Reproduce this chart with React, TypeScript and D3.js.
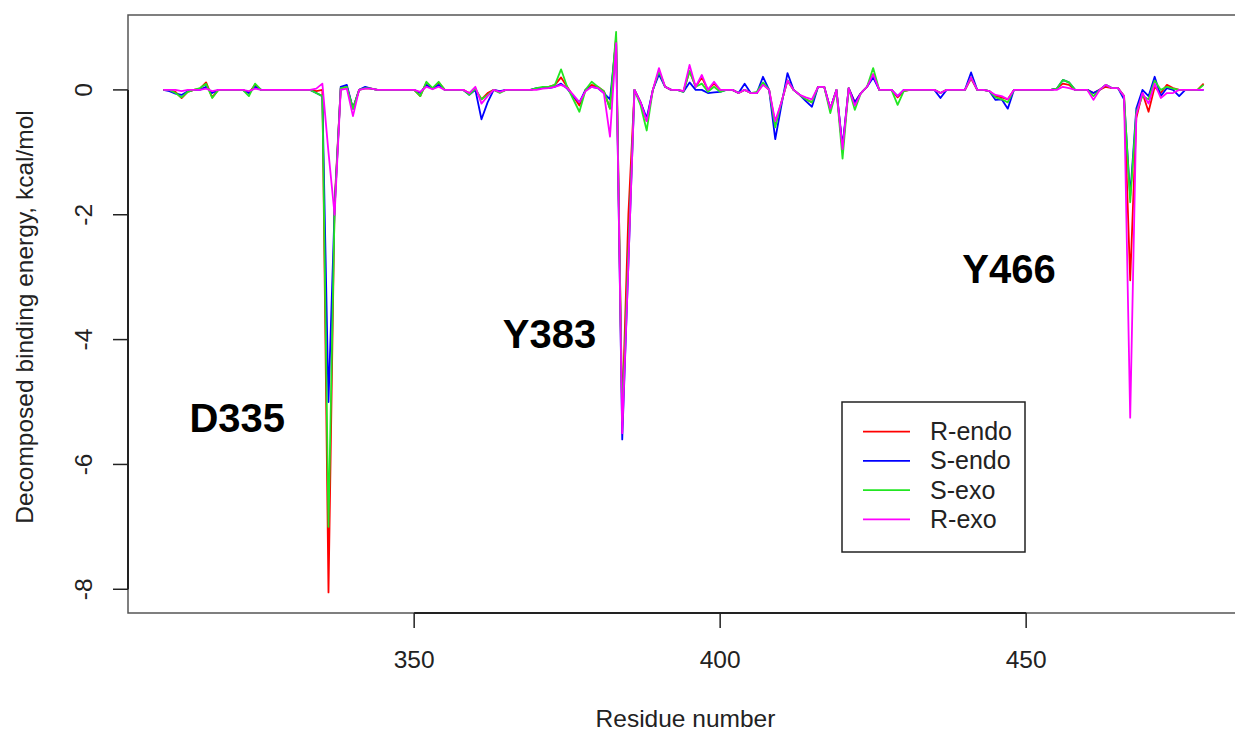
import React from "react";
import * as d3 from "d3";

const firstResidue = 309;

const rEndo = [
  0, 0, -0.03, -0.13, -0.03, 0, 0.02, 0.12, -0.12, 0,
  0, 0, 0, 0, -0.05, 0.08, 0, 0, 0, 0,
  0, 0, 0, 0, 0, -0.02, 0, -8.05, -1.8, 0.03,
  0.05, -0.3, 0, 0.03, 0.02, 0, 0, 0, 0, 0,
  0, 0, -0.1, 0.12, 0.02, 0.12, 0, 0, 0, 0,
  -0.05, 0, -0.15, -0.05, 0, -0.03, 0, 0, 0, 0,
  0, 0.02, 0.03, 0.05, 0.08, 0.2, 0.05, -0.1, -0.25, 0,
  0.08, 0.05, -0.02, -0.3, 0.85, -5.2, -2.0, 0, -0.2, -0.5,
  0, 0.3, 0.05, 0, 0, -0.02, 0.3, 0.05, 0.2, 0,
  0.1, 0, 0, 0, -0.05, 0, -0.05, -0.05, 0.1, 0,
  -0.55, -0.2, 0.15, 0, -0.08, -0.15, -0.2, 0.05, 0.05, -0.3,
  0, -0.95, 0.03, -0.2, -0.05, 0.05, 0.25, 0, 0, 0,
  -0.12, -0.02, 0, 0, 0, 0, 0, -0.05, 0, 0,
  0, 0, 0.18, 0, 0, -0.02, -0.1, -0.12, -0.15, 0,
  0, 0, 0, 0, 0, 0, 0.02, 0.1, 0.08, 0,
  0, 0, -0.05, 0, 0.05, 0.03, 0.03, -0.1, -3.05, -0.45,
  -0.05, -0.35, 0.05, -0.05, 0.08, 0.03, 0, 0, 0, 0,
  0.1,
];

const sEndo = [
  0, -0.02, -0.06, -0.08, -0.02, 0, 0, 0.05, -0.05, 0,
  0, 0, 0, 0, -0.05, 0.05, 0, 0, 0, 0,
  0, 0, 0, 0, 0, -0.05, -0.1, -5.0, -1.9, 0.05,
  0.08, -0.3, 0, 0.05, 0.02, 0, 0, 0, 0, 0,
  0, 0, -0.05, 0.08, 0.02, 0.08, 0, 0, 0, 0,
  -0.08, 0, -0.47, -0.2, 0, -0.02, 0, 0, 0, 0,
  0, 0.03, 0.03, 0.03, 0.05, 0.1, 0.02, -0.1, -0.2, 0,
  0.05, 0.03, -0.05, -0.15, 0.8, -5.6, -2.8, 0, -0.2, -0.45,
  0, 0.25, 0.05, 0, 0, -0.03, 0.12, 0, 0, -0.05,
  -0.04, -0.03, 0, 0, -0.05, 0.1, -0.05, -0.05, 0.21, 0,
  -0.79, -0.25, 0.27, 0, -0.08, -0.18, -0.27, 0.05, 0.05, -0.3,
  0, -0.9, 0.03, -0.2, -0.05, 0.05, 0.2, 0, 0, 0,
  -0.1, 0, 0, 0, 0, 0, 0, -0.13, 0, 0,
  0, 0, 0.28, 0, 0, -0.02, -0.16, -0.15, -0.3, 0,
  0, 0, 0, 0, 0, 0, 0.02, 0.16, 0.12, 0,
  0, 0, -0.05, 0, 0.08, 0.03, 0.03, -0.15, -1.7, -0.3,
  0, -0.1, 0.21, -0.1, 0.03, 0, -0.1, 0, 0, 0,
  0,
];

const sExo = [
  0, 0, -0.05, -0.12, -0.03, 0, 0.03, 0.1, -0.13, 0,
  0, 0, 0, 0, -0.1, 0.1, 0, 0, 0, 0,
  0, 0, 0, 0, 0, -0.05, -0.1, -7.0, -1.9, 0.03,
  0.05, -0.3, 0, 0.03, 0.02, 0, 0, 0, 0, 0,
  0, 0, -0.1, 0.13, 0.03, 0.13, 0, 0, 0, 0,
  -0.08, 0.02, -0.15, -0.08, 0, -0.05, 0, 0, 0, 0,
  0, 0.03, 0.05, 0.05, 0.08, 0.33, 0.05, -0.15, -0.35, 0,
  0.13, 0.05, -0.02, -0.3, 0.93, -5.3, -2.6, 0, -0.25, -0.65,
  0, 0.3, 0.05, 0, 0, -0.03, 0.3, 0.05, 0.1, -0.03,
  0.05, -0.03, 0, 0, -0.05, 0, -0.05, -0.03, 0.12, 0,
  -0.6, -0.2, 0.15, 0, -0.08, -0.15, -0.2, 0.05, 0.05, -0.37,
  0, -1.1, 0.03, -0.32, -0.05, 0.05, 0.35, 0, 0, 0,
  -0.24, -0.02, 0, 0, 0, 0, 0, -0.05, 0, 0,
  0, 0, 0.2, 0, 0, -0.02, -0.12, -0.15, -0.2, 0,
  0, 0, 0, 0, 0, 0, 0.02, 0.16, 0.12, 0,
  0, 0, -0.1, 0, 0.08, 0.03, 0.03, -0.1, -1.8, -0.35,
  -0.1, -0.15, 0.15, 0, 0.05, 0.02, 0, 0, 0, 0,
  0.08,
];

const rExo = [
  0, 0, 0, -0.02, 0, 0, 0, 0.02, -0.02, 0,
  0, 0, 0, 0, -0.02, 0.02, 0, 0, 0, 0,
  0, 0, 0, 0, 0, 0.02, 0.1, -1.0, -2.0, 0,
  0.02, -0.42, 0, 0.02, 0.02, 0, 0, 0, 0, 0,
  0, 0, -0.03, 0.05, 0.01, 0.05, 0, 0, 0, 0,
  -0.05, 0.05, -0.22, -0.1, 0, -0.03, 0, 0, 0, 0,
  0, 0, 0.02, 0.03, 0.05, 0.08, 0.03, -0.08, -0.2, -0.02,
  0.05, 0.03, -0.05, -0.75, 0.75, -5.5, -2.8, 0, -0.2, -0.5,
  0, 0.35, 0.05, 0, 0, -0.02, 0.4, 0.05, 0.24, 0,
  0.13, 0, 0, 0, -0.05, 0, -0.05, -0.05, 0.08, 0,
  -0.5, -0.2, 0.15, 0, -0.08, -0.12, -0.15, 0.05, 0.05, -0.3,
  0, -0.95, 0.03, -0.25, -0.05, 0.05, 0.25, 0, 0, 0,
  -0.1, 0, 0, 0, 0, 0, 0, -0.05, 0, 0,
  0, 0, 0.2, 0, 0, -0.02, -0.08, -0.1, -0.15, 0,
  0, 0, 0, 0, 0, 0, 0, 0.05, 0.03, 0,
  0, 0, -0.16, 0, 0.08, 0.03, 0.03, -0.1, -5.25, -0.4,
  -0.05, -0.22, 0.1, -0.13, -0.05, -0.05, 0, 0, 0, 0,
  0,
];

const seriesNames = ["R-endo", "S-endo", "S-exo", "R-exo"];
const seriesValues = [rEndo, sEndo, sExo, rExo];
const seriesColors = ["#ff0000", "#0000ff", "#22e622", "#ff00ff"];

const xTicks = [350, 400, 450];
const yTicks = [-8, -6, -4, -2, 0];

const annotations = [
  { label: "D335", x: 321.1, y: -5.25 },
  { label: "Y383", x: 372.1, y: -3.9 },
  { label: "Y466", x: 447.2, y: -2.86 },
];

const W = 1235;
const H = 733;
const FONT = "'Liberation Sans', Arial, Helvetica, sans-serif";

export default function App() {
  const left = 128;
  const right = 1245;
  const top = 15;
  const bottom = 613;

  const x = d3.scaleLinear().domain([303.24, 485.76]).range([left, right]);
  const y = d3.scaleLinear().domain([-8.38, 1.2]).range([bottom, top]);

  const line = d3
    .line<number>()
    .x((_, i) => x(firstResidue + i))
    .y((v) => y(v));

  const tickLen = 15;
  const fs = 24.5;
  const legendFs = 25;

  return (
    <div style={{ position: "fixed", left: 0, top: 0, width: W, height: H, background: "#fff" }}>
      <svg width={W} height={H} style={{ display: "block" }} fontFamily={FONT}>
        <rect x={0} y={0} width={W} height={H} fill="#fff" />
        {seriesValues.map((vals, k) => (
          <path
            key={seriesNames[k]}
            d={line(vals) || ""}
            fill="none"
            stroke={seriesColors[k]}
            strokeWidth={1.8}
            strokeLinejoin="round"
          />
        ))}
        {/* plot box */}
        <rect
          x={left}
          y={top}
          width={right - left}
          height={bottom - top}
          fill="none"
          stroke="#555"
          strokeWidth={1.5}
        />
        {/* x axis */}
        <line
          x1={x(xTicks[0])}
          x2={x(xTicks[xTicks.length - 1])}
          y1={bottom}
          y2={bottom}
          stroke="#222"
          strokeWidth={2}
        />
        {xTicks.map((t) => (
          <g key={"xt" + t}>
            <line x1={x(t)} x2={x(t)} y1={bottom} y2={bottom + tickLen} stroke="#222" strokeWidth={1.5} />
            <text x={x(t)} y={668} textAnchor="middle" fontSize={fs} fill="#222">
              {t}
            </text>
          </g>
        ))}
        {/* y axis */}
        <line
          x1={left}
          x2={left}
          y1={y(yTicks[0])}
          y2={y(yTicks[yTicks.length - 1])}
          stroke="#222"
          strokeWidth={2}
        />
        {yTicks.map((t) => (
          <g key={"yt" + t}>
            <line x1={left - tickLen} x2={left} y1={y(t)} y2={y(t)} stroke="#222" strokeWidth={1.5} />
            <text
              transform={`translate(${92},${y(t)}) rotate(-90)`}
              textAnchor="middle"
              fontSize={fs}
              fill="#222"
            >
              {t}
            </text>
          </g>
        ))}
        {/* axis titles */}
        <text x={685.5} y={727} textAnchor="middle" fontSize={fs} fill="#222">
          Residue number
        </text>
        <text
          transform={`translate(${33},${(top + bottom) / 2 + 3}) rotate(-90)`}
          textAnchor="middle"
          fontSize={fs}
          fill="#222"
        >
          Decomposed binding energy, kcal/mol
        </text>
        {/* annotations */}
        {annotations.map((a) => (
          <text
            key={a.label}
            x={x(a.x)}
            y={y(a.y) + 0.358 * 40}
            textAnchor="middle"
            fontSize={40}
            fontWeight="bold"
            fill="#000"
          >
            {a.label}
          </text>
        ))}
        {/* legend */}
        <g>
          <rect x={842} y={402} width={183} height={150} fill="#fff" stroke="#222" strokeWidth={1.5} />
          {seriesNames.map((n, k) => {
            const ly = 431.7 + k * 29.2;
            return (
              <g key={"lg" + n}>
                <line x1={863} x2={910} y1={ly} y2={ly} stroke={seriesColors[k]} strokeWidth={1.8} />
                <text x={930} y={ly + 8.5} fontSize={legendFs} fill="#222">
                  {n}
                </text>
              </g>
            );
          })}
        </g>
      </svg>
    </div>
  );
}
